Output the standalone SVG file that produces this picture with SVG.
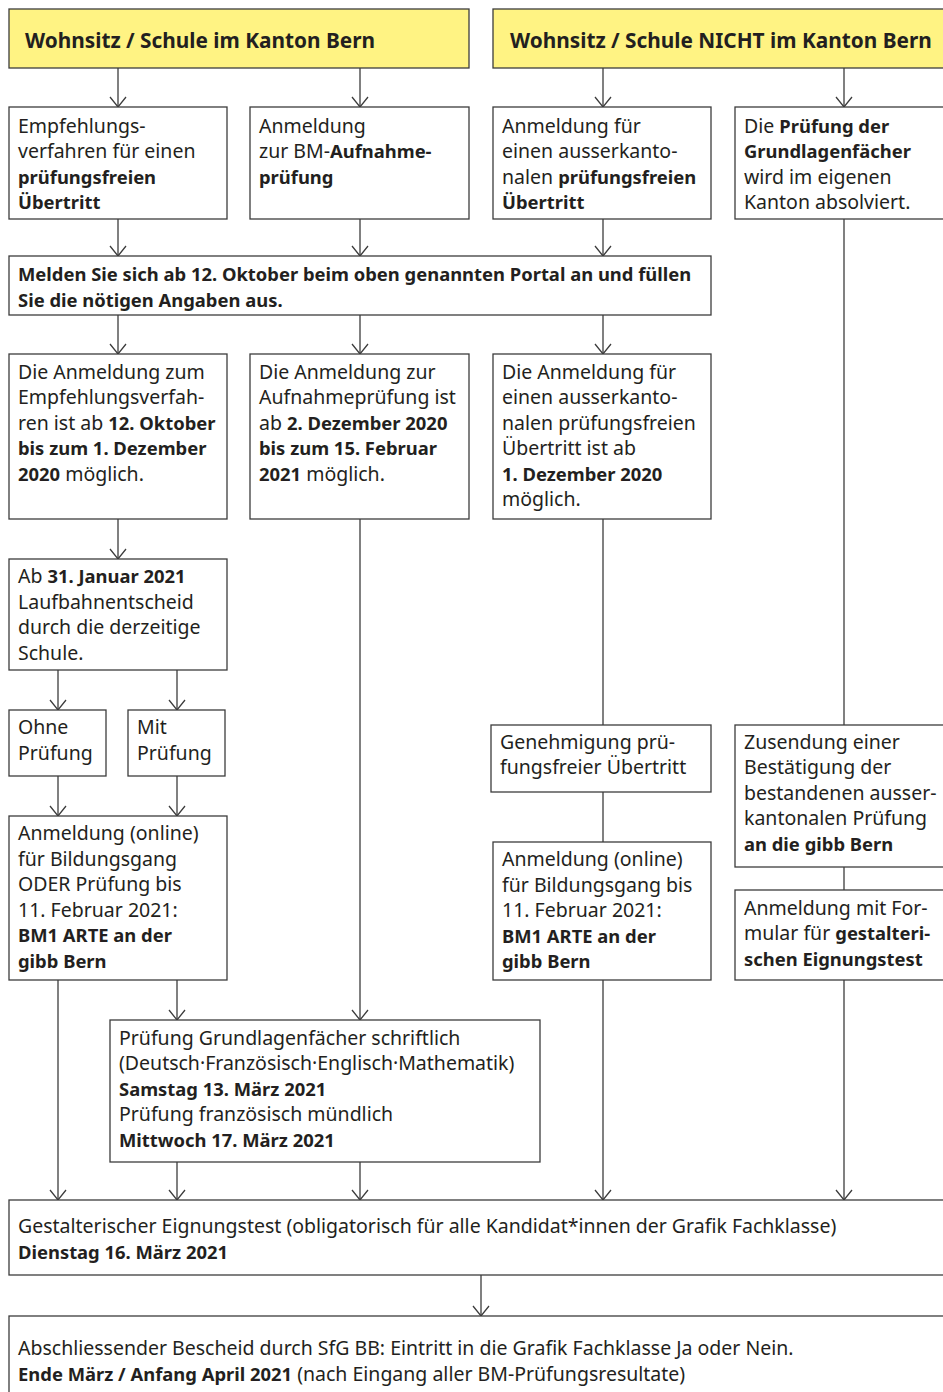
<svg xmlns="http://www.w3.org/2000/svg" width="943" height="1392" viewBox="0 0 943 1392">
<style>
.box{fill:#fff;stroke:#3c3c3c;stroke-width:1.3}
.hdr{fill:#fff383;stroke:#3c3c3c;stroke-width:1.3}
.t{font-family:"Noto Sans","Open Sans",sans-serif;font-size:19.5px;fill:#231f20}
.b{font-weight:bold;font-size:18.4px}
.h{font-family:"Noto Sans","Open Sans",sans-serif;font-size:20.8px;font-weight:bold;fill:#231f20}
.c{stroke:#3c3c3c;stroke-width:1.3;fill:none}
</style>
<defs>
<marker id="ah" markerUnits="userSpaceOnUse" markerWidth="20" markerHeight="20" refX="0" refY="0" viewBox="-12 -10 14 20" orient="auto">
<path d="M-10,-8 L0,0 L-10,8" fill="none" stroke="#3c3c3c" stroke-width="1.3"/>
</marker>
</defs>
<g id="connectors" class="c">
<line x1="118" y1="68" x2="118" y2="107" marker-end="url(#ah)"/>
<line x1="360" y1="68" x2="360" y2="107" marker-end="url(#ah)"/>
<line x1="603" y1="68" x2="603" y2="107" marker-end="url(#ah)"/>
<line x1="844" y1="68" x2="844" y2="107" marker-end="url(#ah)"/>
<line x1="118" y1="219" x2="118" y2="256" marker-end="url(#ah)"/>
<line x1="360" y1="219" x2="360" y2="256" marker-end="url(#ah)"/>
<line x1="603" y1="219" x2="603" y2="256" marker-end="url(#ah)"/>
<line x1="844" y1="219" x2="844" y2="725"/>
<line x1="118" y1="315" x2="118" y2="354" marker-end="url(#ah)"/>
<line x1="360" y1="315" x2="360" y2="354" marker-end="url(#ah)"/>
<line x1="603" y1="315" x2="603" y2="354" marker-end="url(#ah)"/>
<line x1="118" y1="519" x2="118" y2="559" marker-end="url(#ah)"/>
<line x1="360" y1="519" x2="360" y2="1020" marker-end="url(#ah)"/>
<line x1="603" y1="519" x2="603" y2="725"/>
<line x1="58" y1="670" x2="58" y2="710" marker-end="url(#ah)"/>
<line x1="177" y1="670" x2="177" y2="710" marker-end="url(#ah)"/>
<line x1="58" y1="776" x2="58" y2="816" marker-end="url(#ah)"/>
<line x1="177" y1="776" x2="177" y2="816" marker-end="url(#ah)"/>
<line x1="58" y1="980" x2="58" y2="1200" marker-end="url(#ah)"/>
<line x1="177" y1="980" x2="177" y2="1020" marker-end="url(#ah)"/>
<line x1="603" y1="792" x2="603" y2="842"/>
<line x1="844" y1="867" x2="844" y2="890"/>
<line x1="177" y1="1162" x2="177" y2="1200" marker-end="url(#ah)"/>
<line x1="360" y1="1162" x2="360" y2="1200" marker-end="url(#ah)"/>
<line x1="603" y1="980" x2="603" y2="1200" marker-end="url(#ah)"/>
<line x1="844" y1="980" x2="844" y2="1200" marker-end="url(#ah)"/>
<line x1="481" y1="1275" x2="481" y2="1316" marker-end="url(#ah)"/>
</g>
<g id="hdr1"><rect class="hdr" x="9" y="9" width="460" height="59"/><text class="h" x="25" y="48">Wohnsitz / Schule im Kanton Bern</text></g>
<g id="hdr2"><rect class="hdr" x="493" y="9" width="460" height="59"/><text class="h" x="510" y="48">Wohnsitz / Schule NICHT im Kanton Bern</text></g>
<g id="n1"><rect class="box" x="9" y="107" width="218" height="112"/><text class="t" x="18" y="132.5">Empfehlungs-<tspan x="18" dy="25.5">verfahren für einen</tspan><tspan x="18" dy="25.5" class="b">prüfungsfreien</tspan><tspan x="18" dy="25.5" class="b">Übertritt</tspan></text></g>
<g id="n2"><rect class="box" x="250" y="107" width="219" height="112"/><text class="t" x="259" y="132.5">Anmeldung<tspan x="259" dy="25.5">zur BM-<tspan class="b">Aufnahme-</tspan></tspan><tspan x="259" dy="25.5" class="b">prüfung</tspan></text></g>
<g id="n3"><rect class="box" x="493" y="107" width="218" height="112"/><text class="t" x="502" y="132.5">Anmeldung für<tspan x="502" dy="25.5">einen ausserkanto-</tspan><tspan x="502" dy="25.5">nalen <tspan class="b">prüfungsfreien</tspan></tspan><tspan x="502" dy="25.5" class="b">Übertritt</tspan></text></g>
<g id="n4"><rect class="box" x="735" y="107" width="220" height="112"/><text class="t" x="744" y="132.5">Die <tspan class="b">Prüfung der</tspan><tspan x="744" dy="25.5" class="b">Grundlagenfächer</tspan><tspan x="744" dy="25.5">wird im eigenen</tspan><tspan x="744" dy="25.5">Kanton absolviert.</tspan></text></g>
<g id="portal"><rect class="box" x="9" y="256" width="702" height="59"/><text class="t b" x="18" y="281">Melden Sie sich ab 12. Oktober beim oben genannten Portal an und füllen<tspan x="18" dy="25.5">Sie die nötigen Angaben aus.</tspan></text></g>
<g id="n5"><rect class="box" x="9" y="354" width="218" height="165"/><text class="t" x="18" y="378.5">Die Anmeldung zum<tspan x="18" dy="25.5">Empfehlungsverfah-</tspan><tspan x="18" dy="25.5">ren ist ab <tspan class="b">12. Oktober</tspan></tspan><tspan x="18" dy="25.5" class="b">bis zum 1. Dezember</tspan><tspan x="18" dy="25.5"><tspan class="b">2020</tspan> möglich.</tspan></text></g>
<g id="n6"><rect class="box" x="250" y="354" width="219" height="165"/><text class="t" x="259" y="378.5">Die Anmeldung zur<tspan x="259" dy="25.5">Aufnahmeprüfung ist</tspan><tspan x="259" dy="25.5">ab <tspan class="b">2. Dezember 2020</tspan></tspan><tspan x="259" dy="25.5" class="b">bis zum 15. Februar</tspan><tspan x="259" dy="25.5"><tspan class="b">2021</tspan> möglich.</tspan></text></g>
<g id="n7"><rect class="box" x="493" y="354" width="218" height="165"/><text class="t" x="502" y="378.5">Die Anmeldung für<tspan x="502" dy="25.5">einen ausserkanto-</tspan><tspan x="502" dy="25.5">nalen prüfungsfreien</tspan><tspan x="502" dy="25.5">Übertritt ist ab</tspan><tspan x="502" dy="25.5" class="b">1. Dezember 2020</tspan><tspan x="502" dy="25.5">möglich.</tspan></text></g>
<g id="n8"><rect class="box" x="9" y="559" width="218" height="111"/><text class="t" x="18" y="583">Ab <tspan class="b">31. Januar 2021</tspan><tspan x="18" dy="25.5">Laufbahnentscheid</tspan><tspan x="18" dy="25.5">durch die derzeitige</tspan><tspan x="18" dy="25.5">Schule.</tspan></text></g>
<g id="n9"><rect class="box" x="9" y="710" width="97" height="66"/><text class="t" x="18" y="734">Ohne<tspan x="18" dy="25.5">Prüfung</tspan></text></g>
<g id="n10"><rect class="box" x="128" y="710" width="97" height="66"/><text class="t" x="137" y="734">Mit<tspan x="137" dy="25.5">Prüfung</tspan></text></g>
<g id="n11"><rect class="box" x="9" y="816" width="218" height="164"/><text class="t" x="18" y="840">Anmeldung (online)<tspan x="18" dy="25.5">für Bildungsgang</tspan><tspan x="18" dy="25.5">ODER Prüfung bis</tspan><tspan x="18" dy="25.5">11. Februar 2021:</tspan><tspan x="18" dy="25.5" class="b">BM1 ARTE an der</tspan><tspan x="18" dy="25.5" class="b">gibb Bern</tspan></text></g>
<g id="n12"><rect class="box" x="491" y="725" width="220" height="67"/><text class="t" x="500" y="748.5">Genehmigung prü-<tspan x="500" dy="25.5">fungsfreier Übertritt</tspan></text></g>
<g id="n13"><rect class="box" x="493" y="842" width="218" height="138"/><text class="t" x="502" y="866">Anmeldung (online)<tspan x="502" dy="25.5">für Bildungsgang bis</tspan><tspan x="502" dy="25.5">11. Februar 2021:</tspan><tspan x="502" dy="25.5" class="b">BM1 ARTE an der</tspan><tspan x="502" dy="25.5" class="b">gibb Bern</tspan></text></g>
<g id="n14"><rect class="box" x="735" y="725" width="220" height="142"/><text class="t" x="744" y="748.5">Zusendung einer<tspan x="744" dy="25.5">Bestätigung der</tspan><tspan x="744" dy="25.5">bestandenen ausser-</tspan><tspan x="744" dy="25.5">kantonalen Prüfung</tspan><tspan x="744" dy="25.5" class="b">an die gibb Bern</tspan></text></g>
<g id="n15"><rect class="box" x="735" y="890" width="220" height="90"/><text class="t" x="744" y="914.5">Anmeldung mit For-<tspan x="744" dy="25.5">mular für <tspan class="b">gestalteri-</tspan></tspan><tspan x="744" dy="25.5" class="b">schen Eignungstest</tspan></text></g>
<g id="n16"><rect class="box" x="110" y="1020" width="430" height="142"/><text class="t" x="119" y="1044.5">Prüfung Grundlagenfächer schriftlich<tspan x="119" dy="25.5">(Deutsch·Französisch·Englisch·Mathematik)</tspan><tspan x="119" dy="25.5" class="b">Samstag 13. März 2021</tspan><tspan x="119" dy="25.5">Prüfung französisch mündlich</tspan><tspan x="119" dy="25.5" class="b">Mittwoch 17. März 2021</tspan></text></g>
<g id="n17"><rect class="box" x="9" y="1200" width="946" height="75"/><text class="t" x="18" y="1233">Gestalterischer Eignungstest (obligatorisch für alle Kandidat*innen der Grafik Fachklasse)<tspan x="18" dy="25.5" class="b">Dienstag 16. März 2021</tspan></text></g>
<g id="n18"><rect class="box" x="9" y="1316" width="946" height="90"/><text class="t" x="18" y="1355">Abschliessender Bescheid durch SfG BB: Eintritt in die Grafik Fachklasse Ja oder Nein.<tspan x="18" dy="25.5"><tspan class="b">Ende März / Anfang April 2021</tspan> (nach Eingang aller BM-Prüfungsresultate)</tspan></text></g>
</svg>
